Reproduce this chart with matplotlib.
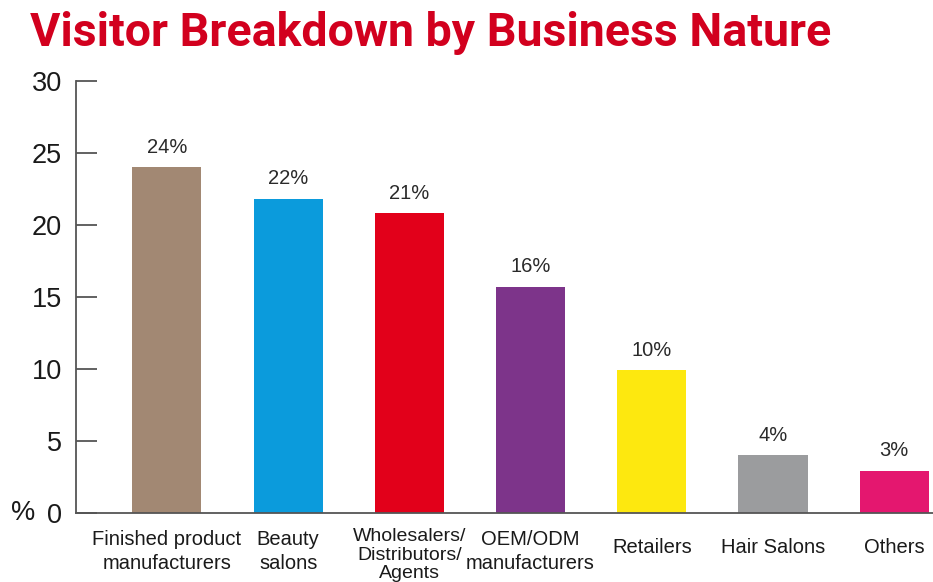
import numpy as np
import matplotlib
matplotlib.use("Agg")
import matplotlib.pyplot as plt

categories = ["Finished product\nmanufacturers", "Beauty\nsalons",
              "Wholesalers/\nDistributors/\nAgents", "OEM/ODM\nmanufacturers",
              "Retailers", "Hair Salons", "Others"]
values = [24, 22, 21, 16, 10, 4, 3]
heights = [24.0, 21.8, 20.8, 15.7, 9.9, 4.0, 2.9]
colors = ["#a28873", "#0b9bdc", "#e2001a", "#7d348a", "#fde80f", "#9b9c9e", "#e4176f"]
yticks = [0, 5, 10, 15, 20, 25, 30]

plt.rcParams['font.family'] = ['Liberation Sans', 'DejaVu Sans']

fig = plt.figure(figsize=(9.33, 5.82), dpi=100)
ax = fig.add_axes([76 / 933, 1 - 513 / 582, 1 - 76 / 933, (513 - 81) / 582])

x = np.arange(len(categories))
ax.bar(x, heights, width=0.57, color=colors)

for xi, h, v in zip(x, heights, values):
    ax.text(xi, h + 0.75, f"{v}%", ha="center", va="bottom", fontsize=14.5, color="#2a2a2a")

ax.set_xlim(-0.75, 6.32)
ax.set_ylim(0, 30)
ax.set_yticks(yticks)
ax.set_yticklabels([str(t) for t in yticks], fontsize=19.5, color="#1a1a1a")
ax.tick_params(axis="y", direction="in", length=15, width=1.3, color="#555555", pad=10)

ax.set_xticks(x)
ax.set_xticklabels([])
ax.tick_params(axis="x", length=0)

# category names under the bars; one-line names sit a bit lower,
# the three-line one is packed tighter
for xi, name in zip(x, categories):
    nlines = name.count("\n") + 1
    if nlines == 2:
        ax.annotate(name, (xi, 0), xycoords=("data", "axes fraction"),
                    xytext=(0, -12), textcoords="offset points",
                    ha="center", va="top", fontsize=14.5, color="#1a1a1a",
                    linespacing=1.33)
    elif nlines == 3:
        ax.annotate(name, (xi, 0), xycoords=("data", "axes fraction"),
                    xytext=(0, -11), textcoords="offset points",
                    ha="center", va="top", fontsize=14, color="#1a1a1a",
                    linespacing=1.1)
    else:
        ax.annotate(name, (xi, 0), xycoords=("data", "axes fraction"),
                    xytext=(0, -24.5), textcoords="offset points",
                    ha="center", va="center", fontsize=14.5, color="#1a1a1a")

for s in ["top", "right"]:
    ax.spines[s].set_visible(False)
for s in ["left", "bottom"]:
    ax.spines[s].set_color("#555555")
    ax.spines[s].set_linewidth(1.3)

ax.text(-0.048, 0, "%", transform=ax.transAxes, ha="right", va="center",
        fontsize=19.5, color="#1a1a1a")

fig.text(30 / 933, 1 - 46 / 582, "Visitor Breakdown by Business Nature",
         fontsize=33.5, fontweight="bold", color="#d2001e", ha="left", va="baseline",
         family=["Roboto", "DejaVu Sans"])

fig.savefig("out.png", dpi=100)
